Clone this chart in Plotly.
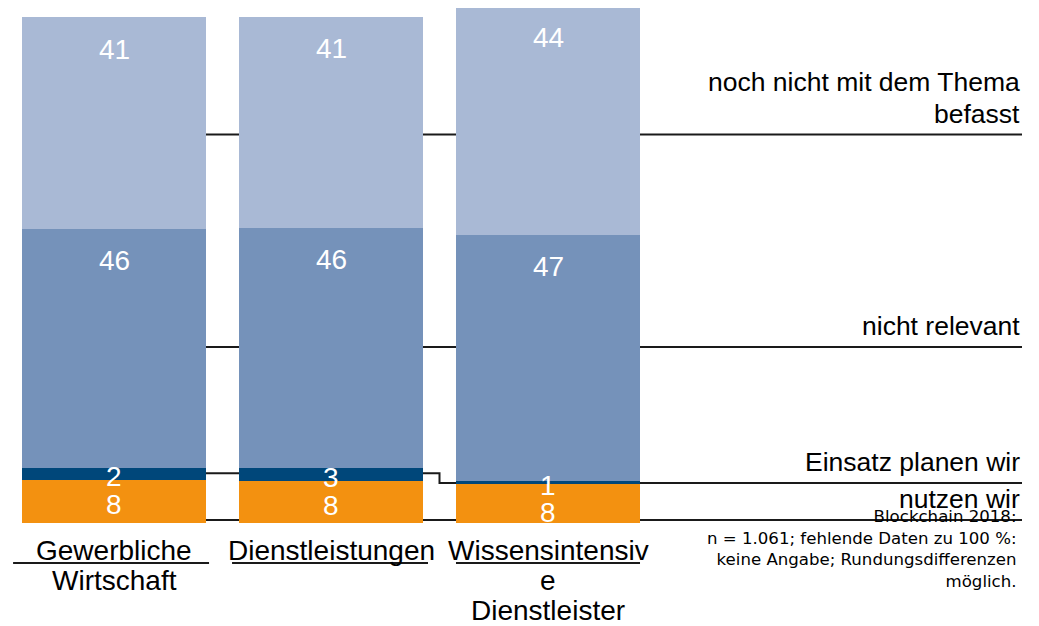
import plotly.graph_objects as go

categories = ["Gewerbliche<br>Wirtschaft", "Dienstleistungen", "Wissensintensiv<br>e<br>Dienstleister"]
series_names = ["nutzen wir", "Einsatz planen wir", "nicht relevant", "noch nicht mit dem Thema<br>befasst"]
nutzen = [8.3, 8.1, 7.6]
einsatz = [2.4, 2.6, 0.6]
nicht_relevant = [46.1, 46.3, 47.4]
noch_nicht = [40.8, 40.7, 44.4]
footnote = "Blockchain 2018:<br>n = 1.061; fehlende Daten zu 100 %:<br>keine Angabe; Rundungsdifferenzen<br>möglich."

# ---- layout constants ----
colors = ["#F39110", "#00477A", "#7592BA", "#A9B9D5"]
OFF = 8                          # page body margin in the browser
W, H = 1039 - OFF, 626 - OFF
PPU = 5.18                       # pixels per percentage point
Y_HI = (523 - OFF) / PPU
Y_LO = Y_HI - H / PPU
X_LO = -(114 - OFF) / 217
X_HI = X_LO + W / 217
BAR_W = 0.848
RIGHT_X = X_LO + (1022 - OFF) / 217
FONT = "Liberation Sans, Arial, sans-serif"
UNDERLINE_L = [-0.465, -0.456, -0.424]
UNDERLINE_R = [0.438, 0.447, 0.424]
# leader line levels (data units) for each series label on the right
leader_levels = {"nutzen wir": [0.6], "Einsatz planen wir": [9.6, 7.7],
                 "nicht relevant": [34.0], "noch nicht mit dem Thema<br>befasst": [75.0]}

xs = list(range(len(categories)))
series = [nutzen, einsatz, nicht_relevant, noch_nicht]

fig = go.Figure()
for name, vals, col in zip(series_names, series, colors):
    fig.add_trace(go.Bar(x=xs, y=vals, name=name, width=BAR_W,
                         marker=dict(color=col, line=dict(width=0)),
                         hoverinfo="skip", showlegend=False))

annotations = []
shapes = []
px = 1 / PPU
for i in xs:
    base = 0
    tops = []
    for vals in series:
        tops.append((base, base + vals[i]))
        base += vals[i]
    # orange and dark blue: centred, kept apart
    o_lo, o_hi = tops[0]
    d_lo, d_hi = tops[1]
    d_y = (d_lo + d_hi) / 2 - 3 * px
    o_y = min((o_lo + o_hi) / 2 - 3 * px, d_y - 27 * px)
    for val, yy in ((einsatz[i], d_y), (nutzen[i], o_y)):
        annotations.append(dict(x=i, y=yy, xref="x", yref="y", text=f"{val:.0f}",
                                showarrow=False, yanchor="middle",
                                font=dict(family=FONT, size=28, color="white")))
    for k in (2, 3):
        lo, hi = tops[k]
        annotations.append(dict(x=i, y=hi - 32 * px, xref="x", yref="y",
                                text=f"{series[k][i]:.0f}", showarrow=False,
                                yanchor="middle",
                                font=dict(family=FONT, size=28, color="white")))
    # category labels, one annotation per line
    for j, line in enumerate(categories[i].split("<br>")):
        annotations.append(dict(x=i, y=-(27 + 30 * j) * px, xref="x", yref="y",
                                text=line, showarrow=False, yanchor="middle",
                                font=dict(family=FONT, size=28, color="black")))
    # underline under first label line
    shapes.append(dict(type="line", xref="x", yref="y",
                       x0=i + UNDERLINE_L[i], x1=i + UNDERLINE_R[i],
                       y0=-40 * px, y1=-40 * px,
                       line=dict(color="#1a1a1a", width=2)))

# leader lines (drawn below bars)
for name, lv in leader_levels.items():
    if len(lv) == 1:
        path = f"M 0,{lv[0]} L {RIGHT_X},{lv[0]}"
    else:
        path = f"M 0,{lv[0]} L 1.5,{lv[0]} L 1.5,{lv[1]} L {RIGHT_X},{lv[1]}"
    shapes.append(dict(type="path", path=path, xref="x", yref="y", layer="below",
                       line=dict(color="#1a1a1a", width=2)))
    lines = name.split("<br>")
    n = len(lines)
    for j, line in enumerate(lines):
        annotations.append(dict(x=RIGHT_X, y=lv[-1] + (4 + 31 * (n - 1 - j)) * px,
                                xref="x", yref="y", text=line, showarrow=False,
                                xanchor="right", yanchor="bottom",
                                font=dict(family=FONT, size=26.5, color="black")))

annotations.append(dict(x=X_LO + (1019 - OFF) / 217, y=3.4, xref="x", yref="y", text=footnote,
                        showarrow=False, xanchor="right", yanchor="top", align="right",
                        font=dict(family="DejaVu Sans, sans-serif", size=16.6, color="black")))

fig.update_layout(
    barmode="stack", width=W, height=H,
    margin=dict(l=0, r=0, t=0, b=0),
    paper_bgcolor="white", plot_bgcolor="white",
    xaxis=dict(range=[X_LO, X_HI], visible=False, fixedrange=True),
    yaxis=dict(range=[Y_LO, Y_HI], visible=False, fixedrange=True),
    annotations=annotations, shapes=shapes, showlegend=False,
)
fig.write_html("out.html")
